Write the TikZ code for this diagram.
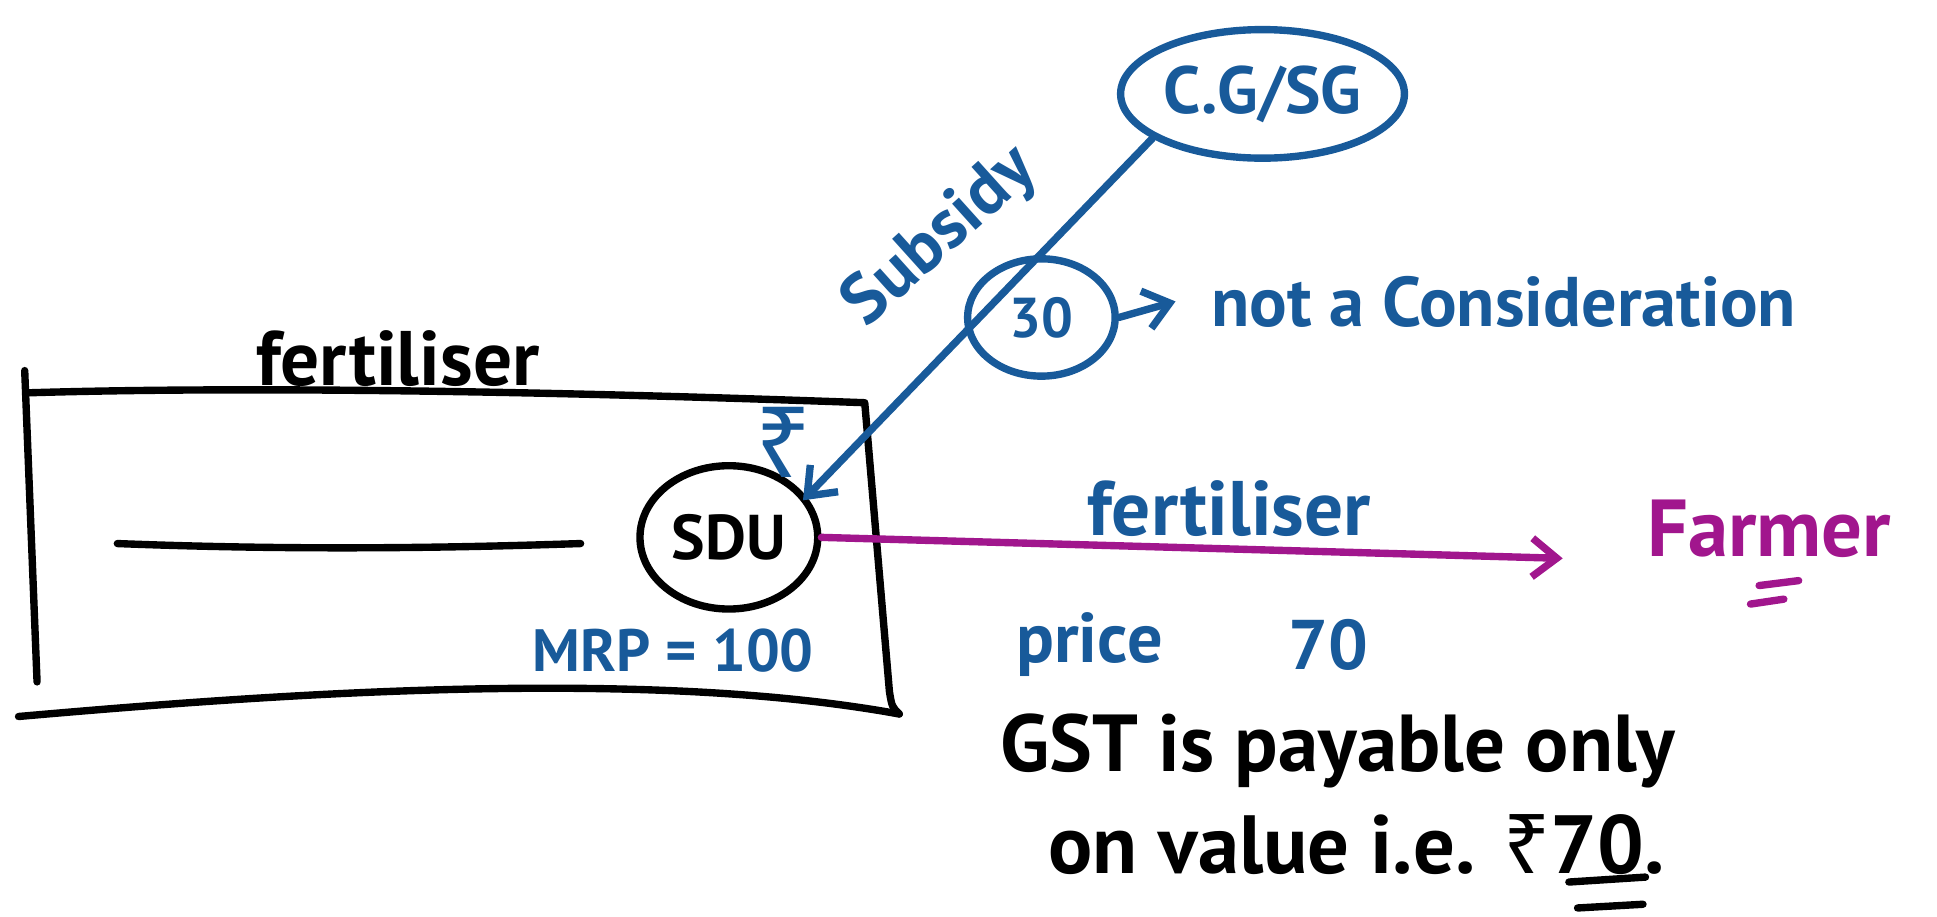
\documentclass[tikz,border=0pt]{standalone}
\usepackage{fontspec}
\setmainfont{PT Sans}
\newfontfamily\rupeefont{Noto Sans}
\usetikzlibrary{arrows.meta,shapes.geometric}
\definecolor{ink}{HTML}{185A9A}
\definecolor{plum}{HTML}{A1168D}

\begin{document}
\begin{tikzpicture}[x=0.012353cm,y=-0.012353cm,line cap=round,line join=round,
  pen/.style={line width=2.1pt},
  barb/.style={-{Straight Barb[length=7pt,width=11pt,line width=2.1pt]}},
  txt/.style={inner sep=0pt,anchor=center},
  fs/.style={font=\fontsize{#1}{#1}\selectfont\bfseries}]
\useasboundingbox[fill=white] (0,0) rectangle (1568,742);

% the fertiliser bag
\draw[pen] (20,300) -- (30,552);
\draw[pen] (22,318) .. controls (220,312) and (480,318) .. (700,326)
  -- (720,560) .. controls (722,572) .. (728,578);
\draw[pen] (15,580) .. controls (220,562) and (520,540) .. (728,578);
\draw[pen] (95,440) .. controls (250,446) and (380,443) .. (470,440);
\node[txt,fs=22] (bag) at (322,290) {fertiliser};

\node[draw,pen,ellipse,minimum width=50.6pt,minimum height=40.8pt,inner sep=0pt,
  fs=18] (sdu) at (590,435) {SDU};
\node[txt,fs=17,text=ink] (mrp) at (545,527) {MRP = 100};

% government and subsidy
\node[draw,pen,ink,ellipse,minimum width=80.8pt,minimum height=36.6pt,inner sep=0pt,
  fs=19] (cg) at (1022,76) {C.G/SG};
\coordinate (tip) at (650,405);
\draw[pen,ink,barb] (cg.202) -- (tip);
\node[txt,fs=28,text=ink] (rs) at (634,358) {\rupeefont ₹};
\node[txt,fs=20,text=ink,rotate=42] (sub) at (762,192) {Subsidy};
\node[draw,pen,ink,ellipse,minimum width=42pt,minimum height=33.4pt,inner sep=0pt,
  fs=16,text=ink] (c30) at (843,257) {30};
\node[txt,fs=20,text=ink,anchor=west] (nac) at (980,244) {not a Consideration};
\draw[pen,ink,barb] (c30.east) -- ([xshift=-10pt]nac.west);

% supply to the farmer
\node[txt,fs=23,text=plum] (farmer) at (1432,428) {Farmer};
\coordinate (sale) at (1265,452);
\draw[pen,plum,barb] (sdu.east) -- (sale);
\draw[pen,plum] (1424,474) -- (1456,470);
\draw[pen,plum] (1417,489) -- (1444,485);
\node[txt,fs=22,text=ink] (fert) at (995,412) {fertiliser};
\node[txt,fs=20,text=ink] (price) at (882,522) {price};
\node[txt,fs=20,text=ink] (seventy) at (1075,522) {70};

% tax note
\node[txt,fs=23] (gst) at (1083,608) {GST is payable only};
\node[txt,fs=23.5] (val) at (1098,684) {on value i.e. {\rupeefont\bfseries ₹}70.};
\draw[pen] (1270,714) -- (1332,710);
\draw[pen] (1277,735) -- (1330,732);
\end{tikzpicture}
\end{document}
